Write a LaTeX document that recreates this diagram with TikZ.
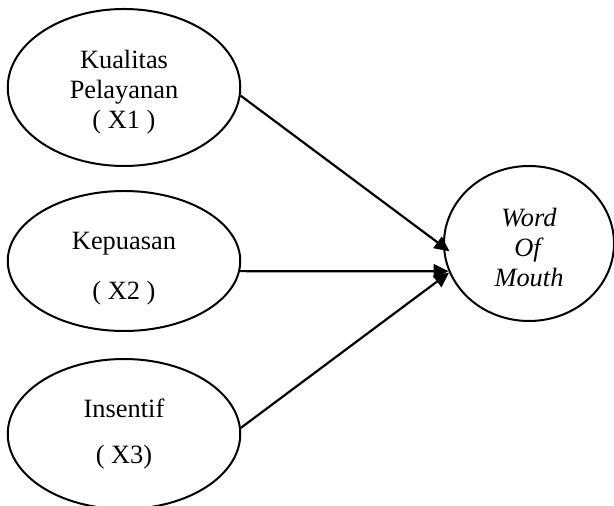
\documentclass[tikz,border=0pt]{standalone}
\usepackage{fontspec}
\setmainfont{Liberation Serif}
\usepackage{tikz}
\usetikzlibrary{positioning,shapes.geometric,arrows.meta}

\begin{document}
\begin{tikzpicture}[x = 0.5pt, y = -0.5pt,
    var/.style = { draw, shape = ellipse, line width = 1pt, inner sep = 0pt, align = center,
                   minimum width = 116.25pt, font = \fontsize{13.2}{15}\selectfont },
    link/.style = { line width = 1.1pt, -{Triangle[length = 7.5pt, width = 7pt]} }]
    \useasboundingbox (0,0) rectangle (614,506);

    \node [var, minimum height = 78.5pt] (x1) at (124,87.5) { \rule{0pt}{13.5pt}Kualitas \\ Pelayanan \\ ( X1 ) };
    \node [var, minimum height = 70pt, below = 11.5pt of x1] (x2) { \rule{0pt}{16pt}Kepuasan \\[10pt] ( X2 ) };
    \node [var, minimum height = 75pt, below = 13pt of x2] (x3) { Insentif \\[8pt] ( X3) };
    \node [var, minimum width = 85pt, minimum height = 77.5pt] (wom) at (529,243.5)
      { \rule{0pt}{13pt}\textit{Word} \\ \textit{Of} \\ \textit{Mouth} };

    \draw [link, shorten >= -4pt] (x1.-4.7) -- (wom.182.4);
    \draw [link] (x2.-5.5) -- (wom.199);
    \draw [link] (x3.3.5) -- (wom.200.6);

\end{tikzpicture}
\end{document}
